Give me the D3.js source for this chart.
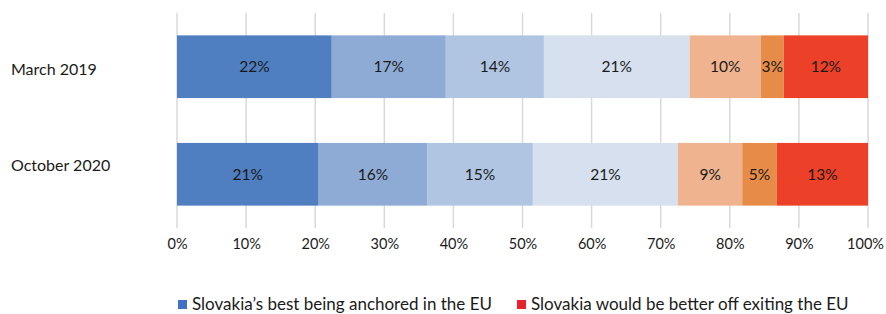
<!DOCTYPE html>
<html>
<head>
<meta charset="utf-8">
<script src="https://cdn.jsdelivr.net/npm/d3@7"></script>
<style>
  body { margin: 0; background: #fff; }
  text { font-family: Lato, "Open Sans", sans-serif; fill: #1a1a1a; }
</style>
</head>
<body>
<div id="chart"></div>
<script>
// data
var periods = ["March 2019", "October 2020"];
var march2019 = [22.4, 16.5, 14.2, 21.1, 10.3, 3.3, 12.2];
var october2020 = [20.5, 15.7, 15.3, 21.0, 9.3, 5.0, 13.2];
var shownLabels = [[22, 17, 14, 21, 10, 3, 12], [21, 16, 15, 21, 9, 5, 13]];
var ticks = [0, 10, 20, 30, 40, 50, 60, 70, 80, 90, 100];
var legendItems = ["Slovakia\u2019s best being anchored in the EU", "Slovakia would be better off exiting the EU"];

var segColors = ["#4f7fc1", "#8eabd5", "#afc5e2", "#d6e0ee", "#efb38f", "#e68b48", "#ec4128"];
var legendColors = ["#4172c3", "#e8212b"];

var W = 886, H = 314;
var margin = {left: 177, right: 18, top: 13, bottom: 86};

var svg = d3.select("#chart").append("svg").attr("width", W).attr("height", H);

var x = d3.scaleLinear().domain([0, 100]).range([margin.left, W - margin.right]);
var y = d3.scaleBand().domain(periods).range([margin.top, H - margin.bottom])
  .paddingInner(0.417).paddingOuter(0.208);

// grid
svg.append("g").selectAll("line").data(ticks).enter().append("line")
  .attr("x1", function(d){ return x(d); }).attr("x2", function(d){ return x(d); })
  .attr("y1", margin.top).attr("y2", H - margin.bottom)
  .attr("stroke", "#d9d9d9").attr("stroke-width", 1.5);

// stacked rows
var rows = [march2019, october2020];
rows.forEach(function(vals, r){
  var start = 0;
  var segs = vals.map(function(v, i){
    var s = {x0: start, x1: start + v, i: i, label: shownLabels[r][i]};
    start += v;
    return s;
  });
  var g = svg.append("g");
  g.selectAll("rect").data(segs).enter().append("rect")
    .attr("x", function(d){ return x(d.x0); })
    .attr("width", function(d){ return x(d.x1) - x(d.x0); })
    .attr("y", y(periods[r]))
    .attr("height", y.bandwidth())
    .attr("fill", function(d){ return segColors[d.i]; });
  g.selectAll("text").data(segs).enter().append("text")
    .attr("x", function(d){ return (x(d.x0) + x(d.x1)) / 2; })
    .attr("y", y(periods[r]) + y.bandwidth() / 2)
    .attr("dy", "0.35em")
    .attr("text-anchor", "middle")
    .style("font-size", "15.5px")
    .text(function(d){ return d.label + "%"; });
});

// category labels
var labelShift = [2.5, -8.5];
svg.append("g").selectAll("text").data(periods).enter().append("text")
  .attr("x", 11)
  .attr("y", function(d, i){ return y(d) + y.bandwidth() / 2 + labelShift[i]; })
  .attr("dy", "0.35em")
  .style("font-size", "16px")
  .text(function(d){ return d; });

// x axis labels
var axis = d3.axisBottom(x).tickValues(ticks).tickSize(0).tickPadding(0)
  .tickFormat(function(d){ return d + "%"; });
var ax = svg.append("g").attr("transform", "translate(0," + 239 + ")").call(axis);
ax.select(".domain").remove();
ax.selectAll("text").style("font-size", "14.5px").attr("fill", "#1a1a1a")
  .style("font-family", "Lato, 'Open Sans', sans-serif")
  .attr("dx", function(d){ return d === 100 ? -3 : 0; });

// legend
var leg = svg.append("g");
var legX = [178, 517];
legendItems.forEach(function(t, i){
  leg.append("rect").attr("x", legX[i]).attr("y", 300).attr("width", 9).attr("height", 9)
    .attr("fill", legendColors[i]);
  leg.append("text").attr("x", legX[i] + 14).attr("y", 304).attr("dy", "0.35em")
    .style("font-size", "17px").text(t);
});
</script>
</body>
</html>
